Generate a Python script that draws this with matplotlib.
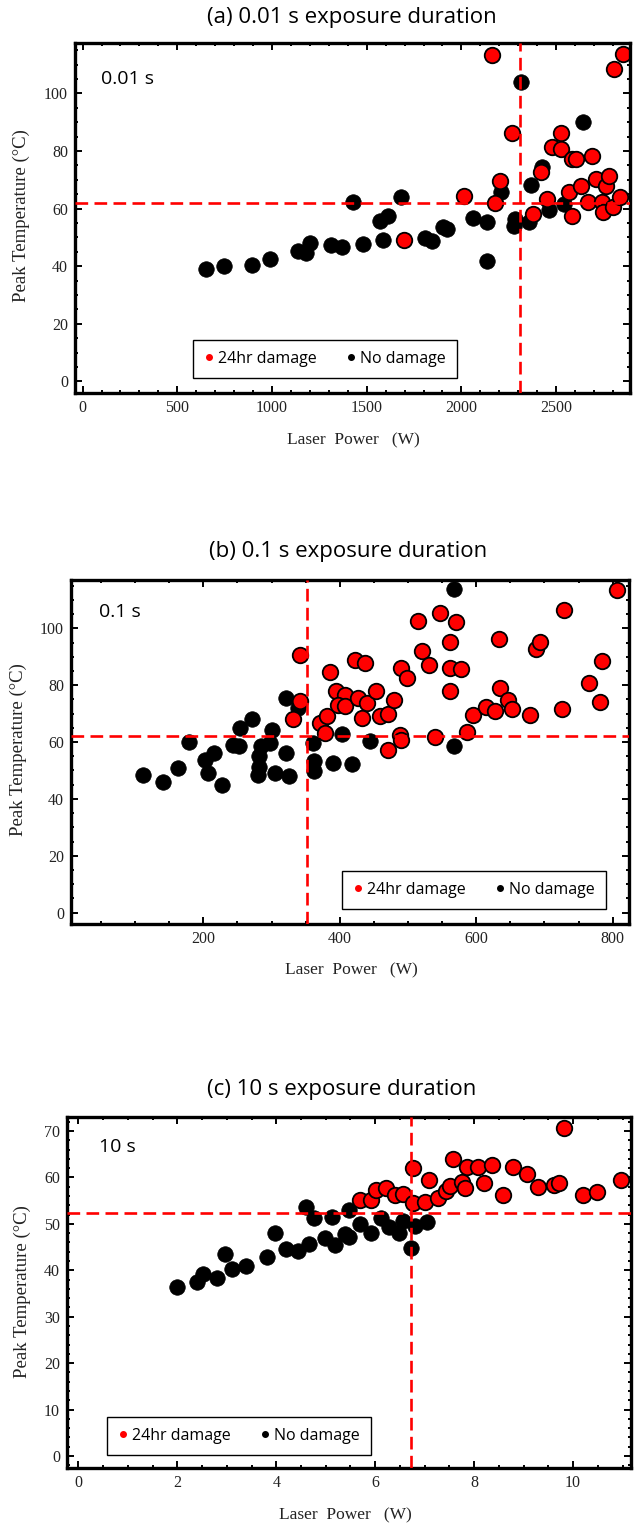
import numpy as np
import matplotlib.pyplot as plt
from matplotlib.lines import Line2D
from matplotlib.ticker import MultipleLocator

# ---- (a) 0.01 s ----
a_nod_w = [652, 744, 897, 989, 1137, 1182, 1203, 1310, 1370, 1429, 1483, 1568, 1611, 1585,
           1682, 1810, 1846, 1902, 1923, 2060, 2137, 2137, 2208, 2276, 2282, 2316, 2355,
           2367, 2428, 2464, 2543, 2640]
a_nod_t = [39.0, 40.0, 40.4, 42.5, 45.3, 44.7, 47.9, 47.5, 46.6, 62.4, 47.6, 55.6, 57.6, 49.0,
           64.1, 49.9, 48.6, 53.6, 52.9, 56.7, 55.2, 41.7, 65.7, 53.8, 56.5, 103.9, 55.2,
           68.1, 74.4, 59.4, 61.7, 90.0]
a_dmg_w = [1697, 2011, 2161, 2178, 2203, 2265, 2376, 2420, 2450, 2478, 2525, 2525, 2566, 2582,
           2582, 2605, 2631, 2666, 2689, 2710, 2740, 2749, 2763, 2777, 2802, 2807, 2839, 2855]
a_dmg_t = [49.1, 64.4, 113.5, 62.0, 69.6, 86.2, 58.0, 72.7, 63.4, 81.4, 86.2, 80.6, 65.7, 57.6,
           77.3, 77.3, 67.7, 62.3, 78.1, 70.4, 62.3, 58.8, 67.7, 71.3, 60.5, 108.6, 64.0, 113.8]

# ---- (b) 0.1 s ----
b_nod_w = [112, 141, 163, 179, 202, 215, 207, 227, 244, 252, 254, 272, 284, 282, 282, 280,
           298, 301, 305, 321, 325, 321, 339, 361, 362, 362, 390, 403, 418, 444, 567, 567]
b_nod_t = [48.3, 45.8, 51.0, 60.0, 53.6, 56.0, 49.2, 44.9, 59.1, 58.7, 64.9, 68.0, 58.7, 55.0,
           51.2, 48.3, 59.7, 64.3, 49.1, 56.0, 48.1, 75.5, 71.9, 59.5, 53.2, 49.7, 52.6, 62.9,
           52.3, 60.2, 113.8, 58.7]
b_dmg_w = [342, 342, 332, 371, 381, 379, 385, 394, 407, 397, 407, 422, 437, 427, 440, 432, 453,
           459, 471, 479, 470, 490, 498, 488, 490, 515, 521, 531, 547, 540, 571, 562, 562, 577,
           562, 586, 596, 615, 627, 633, 635, 646, 653, 679, 687, 693, 726, 729, 765, 782, 785, 806]
b_dmg_t = [90.6, 74.6, 68.2, 66.7, 69.0, 63.2, 84.8, 77.8, 76.6, 73.1, 72.7, 88.9, 87.7, 75.4,
           73.7, 68.4, 77.8, 69.0, 69.9, 74.9, 57.1, 86.2, 82.5, 62.6, 60.8, 102.7, 92.2, 87.1,
           105.5, 61.8, 102.1, 95.3, 86.0, 85.7, 77.9, 63.4, 69.6, 72.5, 71.0, 96.3, 78.9, 74.9,
           71.6, 69.4, 92.6, 95.3, 71.7, 106.4, 80.7, 74.0, 88.5, 113.5]

# ---- (c) 10 s ----
c_nod_w = [1.99, 2.40, 2.52, 2.81, 2.97, 3.10, 3.39, 3.81, 3.98, 4.19, 4.44, 4.61, 4.67, 4.77,
           4.98, 5.12, 5.19, 5.38, 5.47, 5.47, 5.69, 5.91, 6.11, 6.27, 6.48, 6.57, 6.73, 6.81, 7.05]
c_nod_t = [36.4, 37.5, 39.1, 38.3, 43.6, 40.2, 40.9, 42.8, 48.0, 44.5, 44.1, 53.6, 45.6, 51.2,
           46.9, 51.5, 45.4, 47.8, 47.2, 53.0, 49.9, 48.0, 51.2, 49.4, 48.1, 50.7, 44.8, 49.6, 50.4]
c_dmg_w = [5.69, 5.91, 6.01, 6.22, 6.40, 6.57, 6.77, 6.77, 7.00, 7.09, 7.26, 7.43, 7.52, 7.57,
           7.75, 7.82, 7.86, 8.07, 8.20, 8.37, 8.59, 8.79, 9.06, 9.30, 9.62, 9.71, 9.81, 10.20,
           10.48, 10.97]
c_dmg_t = [55.1, 55.2, 57.2, 57.8, 56.2, 56.4, 62.0, 54.5, 54.7, 59.5, 55.5, 57.0, 58.2, 64.0,
           59.0, 57.7, 62.3, 62.3, 58.8, 62.7, 56.1, 62.3, 60.8, 58.0, 58.4, 58.8, 70.7, 56.1,
           56.8, 59.5]

titles = ["(a) 0.01 s exposure duration", "(b) 0.1 s exposure duration", "(c) 10 s exposure duration"]
insets = ["0.01 s", "0.1 s", "10 s"]
thresh_w = [2310, 352, 6.73]
thresh_t = [61.8, 62.2, 52.3]

W, H = 634, 1525
fig = plt.figure(figsize=(W / 100, H / 100), dpi=100)
SANS = "Open Sans"
SERIF = "Liberation Serif"


def fx(x):
    return x / W


def fy(y):
    return 1 - y / H


def make_ax(l, r, t, b):
    return fig.add_axes([fx(l), fy(b), fx(r - l), (b - t) / H])


panels = [
    dict(box=(75, 630, 43, 393), xlim=(-40, 2890), ylim=(-4, 117.5), xmaj=500, xmin=100,
         ymaj=20, ymin=5, nod=(a_nod_w, a_nod_t), dmg=(a_dmg_w, a_dmg_t),
         title=(352, 18), inset=(101, 79), ylab=(21, 216), xlab=(353, 440), leg=(325, 359)),
    dict(box=(71, 629, 580, 924), xlim=(6, 824), ylim=(-4, 117), xmaj=200, xmin=50,
         ymaj=20, ymin=5, nod=(b_nod_w, b_nod_t), dmg=(b_dmg_w, b_dmg_t),
         title=(348, 552), inset=(99, 612), ylab=(18, 750), xlab=(351, 970), leg=(474, 890)),
    dict(box=(67, 631, 1117, 1468), xlim=(-0.23, 11.17), ylim=(-2.6, 73), xmaj=2, xmin=0.5,
         ymaj=10, ymin=2, nod=(c_nod_w, c_nod_t), dmg=(c_dmg_w, c_dmg_t),
         title=(342, 1089), inset=(99, 1147), ylab=(22, 1292), xlab=(345, 1515), leg=(239, 1436)),
]

for i, p in enumerate(panels):
    ax = make_ax(*p["box"])
    ax.set_xlim(*p["xlim"])
    ax.set_ylim(*p["ylim"])
    ax.scatter(p["nod"][0], p["nod"][1], s=125, c="black", edgecolors="black",
               linewidths=0.5, zorder=2)
    ax.scatter(p["dmg"][0], p["dmg"][1], s=125, c="#ff0000", edgecolors="black",
               linewidths=1.3, zorder=2.5)
    ax.axhline(thresh_t[i], color="#ff0000", lw=1.9, ls=(0, (4.8, 2.4)), zorder=3)
    ax.axvline(thresh_w[i], color="#ff0000", lw=1.9, ls=(0, (4.8, 2.4)), zorder=3)

    ax.xaxis.set_major_locator(MultipleLocator(p["xmaj"]))
    ax.xaxis.set_minor_locator(MultipleLocator(p["xmin"]))
    ax.yaxis.set_major_locator(MultipleLocator(p["ymaj"]))
    ax.yaxis.set_minor_locator(MultipleLocator(p["ymin"]))
    ax.tick_params(which="both", direction="in", top=True, right=True, width=1.4,
                   colors="black", labelcolor="#222222")
    ax.tick_params(which="major", length=5, labelsize=11.5, pad=5)
    ax.tick_params(which="minor", length=2.5)
    for lab in ax.get_xticklabels() + ax.get_yticklabels():
        lab.set_family(SERIF)
    for s in ax.spines.values():
        s.set_linewidth(2.4)

    fig.text(fx(p["title"][0]), fy(p["title"][1]), titles[i], family=SANS, fontsize=16,
             ha="center", va="center")
    fig.text(fx(p["inset"][0]), fy(p["inset"][1]), insets[i], family=SANS, fontsize=14,
             ha="left", va="center")
    fig.text(fx(p["ylab"][0]), fy(p["ylab"][1]), "Peak Temperature (\u00b0C)", family=SERIF,
             fontsize=13.5, rotation=90, ha="center", va="center", color="#222222")
    fig.text(fx(p["xlab"][0]), fy(p["xlab"][1]), "Laser  Power   (W)", family=SERIF,
             fontsize=12.5, ha="center", va="center", color="#222222")

    handles = [Line2D([], [], marker="o", ls="none", color="#ff0000", markersize=4),
               Line2D([], [], marker="o", ls="none", color="black", markersize=4)]
    leg = ax.legend(handles, ["24hr damage", "No damage"], ncol=2, loc="center",
                    bbox_to_anchor=(fx(p["leg"][0]), fy(p["leg"][1])),
                    bbox_transform=fig.transFigure, prop={"family": SANS, "size": 11.5},
                    frameon=True, fancybox=False, edgecolor="black", framealpha=1,
                    borderpad=0.7, handlelength=0.6, handletextpad=0.3, columnspacing=1.8)
    leg.get_frame().set_linewidth(1.0)

fig.savefig("out.png", dpi=100)
